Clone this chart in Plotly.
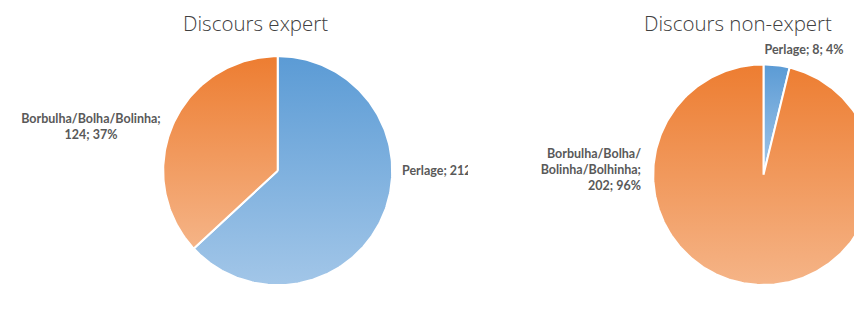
import numpy as np
import plotly.graph_objects as go

# ---- data -------------------------------------------------------------
categories_expert = ["Perlage", "Borbulha/Bolha/Bolinha"]
values_expert = [212, 124]

categories_nonexpert = ["Perlage", "Borbulha/Bolha/Bolinha/Bolhinha"]
values_nonexpert = [8, 202]

titles = ["Discours expert", "Discours non-expert"]

# ---- styling ----------------------------------------------------------
W, H = 854, 326
BLUE = ("#5b9bd5", "#a2c6e8")     # top, bottom of the gradient
ORANGE = ("#ed7d31", "#f5b487")
SLICE_COLORS = [BLUE, ORANGE]
LABEL_FONT = dict(family="Lato, Open Sans, sans-serif", size=12.5, color="#595959", weight="bold")
TITLE_FONT = dict(family="Open Sans, sans-serif", size=20.5, color="#404040", weight=300)

# pie geometry in pixels (x to the right, y from the top)
PIES = [
    dict(cx=277.7, cy=170.7, r=113.5),
    dict(cx=763.5, cy=174.7, r=109.3),
]


def slice_polygons(values, cx, cy, r):
    """Closed outlines of each slice, clockwise from 12 o'clock."""
    total = float(sum(values))
    bounds = np.concatenate([[0.0], np.cumsum(values) / total]) * 2 * np.pi
    yc = H - cy
    out = []
    for a0, a1 in zip(bounds[:-1], bounds[1:]):
        n = max(8, int((a1 - a0) / (2 * np.pi) * 360))
        t = np.linspace(a0, a1, n)
        xs = np.concatenate([[cx], cx + r * np.sin(t), [cx]])
        ys = np.concatenate([[yc], yc + r * np.cos(t), [yc]])
        out.append((xs, ys))
    return out


def pct(values):
    total = sum(values)
    return [round(100 * v / total) for v in values]


fig = go.Figure()

for values, geo in [(values_expert, PIES[0]), (values_nonexpert, PIES[1])]:
    for (xs, ys), (top, bottom) in zip(slice_polygons(values, geo["cx"], geo["cy"], geo["r"] + 1), SLICE_COLORS):
        fig.add_trace(go.Scatter(
            x=xs, y=ys, mode="lines", fill="toself",
            line=dict(color="white", width=2),
            fillgradient=dict(type="vertical", colorscale=[[0, bottom], [1, top]]),
            hoverinfo="skip", xaxis="x", yaxis="y",
        ))

pe = pct(values_expert)
pn = pct(values_nonexpert)

# data labels of the expert chart (clipped by their own narrower subplot)
fig.add_trace(go.Scatter(
    x=[91, 402], y=[H - 128, H - 172],
    mode="text",
    text=[
        f"{categories_expert[1]};<br>{values_expert[1]}; {pe[1]}%",
        f"{categories_expert[0]}; {values_expert[0]}; {pe[0]}%",
    ],
    textposition=["middle center", "middle right"],
    textfont=LABEL_FONT, cliponaxis=True, hoverinfo="skip",
    xaxis="x2", yaxis="y2",
))

# data labels of the non-expert chart
wrapped = categories_nonexpert[1].replace("Bolha/", "Bolha/<br>", 1)
fig.add_trace(go.Scatter(
    x=[641, 804], y=[H - 171, H - 51],
    mode="text",
    text=[
        f"{wrapped};<br>{values_nonexpert[1]}; {pn[1]}%",
        f"{categories_nonexpert[0]}; {values_nonexpert[0]}; {pn[0]}%",
    ],
    textposition=["middle left", "middle center"],
    textfont=LABEL_FONT, cliponaxis=True, hoverinfo="skip",
    xaxis="x", yaxis="y",
))

for title, xc in zip(titles, [255, 738]):
    fig.add_annotation(
        text=title, x=xc / W, y=1 - 23 / H, xref="paper", yref="paper",
        xanchor="center", yanchor="middle", showarrow=False, font=TITLE_FONT,
    )

hidden = dict(visible=False, fixedrange=True)
fig.update_layout(
    width=W, height=H,
    margin=dict(l=0, r=0, t=0, b=0),
    paper_bgcolor="white", plot_bgcolor="rgba(0,0,0,0)",
    showlegend=False,
    xaxis=dict(range=[0, W], domain=[0, 1], **hidden),
    yaxis=dict(range=[0, H], domain=[0, 1], **hidden),
    xaxis2=dict(range=[0, 468], domain=[0, 468 / W], anchor="y2", **hidden),
    yaxis2=dict(range=[0, H], domain=[0, 1], anchor="x2", **hidden),
)

fig.write_html("out.html")
